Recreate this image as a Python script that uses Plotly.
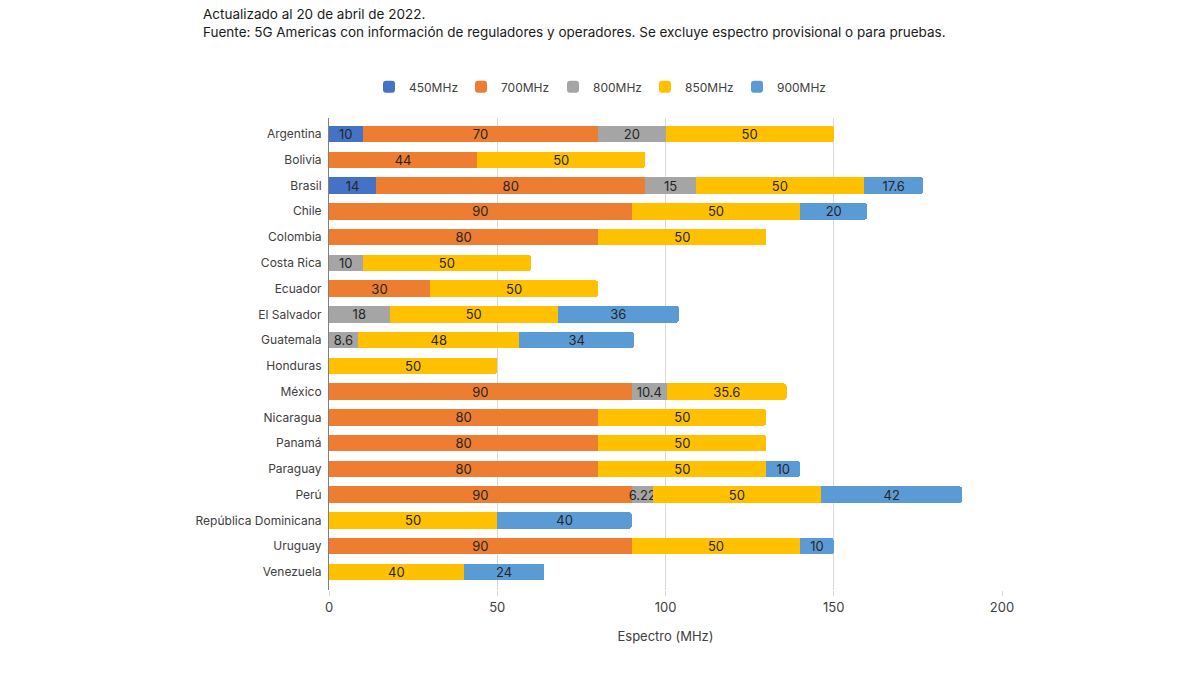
import plotly.graph_objects as go

countries = ["Argentina", "Bolivia", "Brasil", "Chile", "Colombia", "Costa Rica", "Ecuador",
             "El Salvador", "Guatemala", "Honduras", "México", "Nicaragua", "Panamá", "Paraguay",
             "Perú", "República Dominicana", "Uruguay", "Venezuela"]

mhz450 = [10, None, 14, None, None, None, None, None, None, None, None, None, None, None, None, None, None, None]
mhz700 = [70, 44, 80, 90, 80, None, 30, None, None, None, 90, 80, 80, 80, 90, None, 90, None]
mhz800 = [20, None, 15, None, None, 10, None, 18, 8.6, None, 10.4, None, None, None, 6.22, None, None, None]
mhz850 = [50, 50, 50, 50, 50, 50, 50, 50, 48, 50, 35.6, 50, 50, 50, 50, 50, 50, 40]
mhz900 = [None, None, 17.6, 20, None, None, None, 36, 34, None, None, None, None, 10, 42, 40, 10, 24]

series = [
    ("450MHz", mhz450, "#4472C4"),
    ("700MHz", mhz700, "#ED7D31"),
    ("800MHz", mhz800, "#A5A5A5"),
    ("850MHz", mhz850, "#FFC000"),
    ("900MHz", mhz900, "#5B9BD5"),
]

FONT = "Inter"

fig = go.Figure()
for name, vals, color in series:
    fig.add_trace(go.Bar(
        y=countries, x=vals, name=name, orientation="h",
        marker=dict(color=color, line=dict(width=0)),
        text=[("" if v is None else f"{v:g}") for v in vals],
        textposition="inside", insidetextanchor="middle", textangle=0,
        textfont=dict(color="#262626", size=13, family=FONT),
        constraintext="none",
    ))

fig.update_layout(
    barmode="stack",
    bargap=0.36,
    barcornerradius=3,
    width=1200, height=675,
    margin=dict(l=329, r=198, t=118, b=85),
    paper_bgcolor="white", plot_bgcolor="white",
    font=dict(family=FONT, color="#404040", size=12),
    uniformtext=dict(minsize=13, mode="show"),
    legend=dict(orientation="h", x=(599 - 329) / 673, xanchor="center", y=1.066, yanchor="middle",
                font=dict(size=12, color="#404040"), traceorder="normal",
                itemwidth=30, entrywidth=47, entrywidthmode="pixels"),
    xaxis=dict(range=[0, 200], tickvals=[0, 50, 100, 150, 200], showgrid=True,
               gridcolor="#D9D9D9", gridwidth=1, zeroline=False,
               tickfont=dict(size=13, color="#404040"),
               ticks="outside", ticklen=5, tickcolor="#D9D9D9",
               title=dict(text="Espectro (MHz)", font=dict(size=13, color="#404040"), standoff=18)),
    yaxis=dict(range=[17.699, -0.621], showgrid=False, showline=True, linecolor="#7F7F7F",
               linewidth=1, tickfont=dict(size=12, color="#404040"), ticks="", ticklabelstandoff=4),
    annotations=[
        dict(text="Actualizado al 20 de abril de 2022.<br>Fuente: 5G Americas con información de reguladores y operadores. Se excluye espectro provisional o para pruebas.",
             xref="paper", yref="paper", x=(201 - 329) / 673, y=1 + (118 - 4) / 472,
             xanchor="left", yanchor="top", align="left", showarrow=False,
             font=dict(size=13.5, color="#1a1a1a", family=FONT)),
    ],
)

fig.write_html("out.html")
